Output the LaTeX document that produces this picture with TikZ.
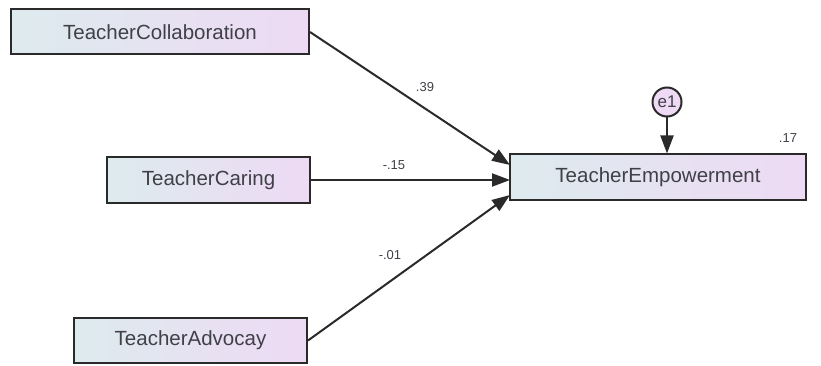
\documentclass[tikz,border=0pt]{standalone}
\usepackage{fontspec}
\setmainfont{Liberation Sans}
\usetikzlibrary{arrows.meta}
\definecolor{boxL}{HTML}{DDEBEE}
\definecolor{boxR}{HTML}{EEDAF4}
\definecolor{edge}{HTML}{2A2A2A}
\definecolor{txt}{HTML}{404048}
\begin{document}
\begin{tikzpicture}[x=1pt,y=-1pt,
  var/.style={draw=edge,line width=2pt,left color=boxL,right color=boxR,
    minimum height=45pt,inner sep=0pt,text=txt,font=\fontsize{20.5}{24}\selectfont},
  path/.style={draw=edge,line width=2pt,-{Triangle[length=18pt,width=13pt]}},
  coef/.style={text=txt,font=\fontsize{13}{15}\selectfont,inner sep=0pt}]
\useasboundingbox (0,0) rectangle (821,366);
\node[var,minimum width=298pt] (col) at (160,32) {TeacherCollaboration};
\node[var,minimum width=203pt] (car) at (208.5,180) {TeacherCaring};
\node[var,minimum width=233pt] (adv) at (190.5,340.5) {TeacherAdvocay};
\node[var,minimum width=296pt] (emp) at (658,177) {TeacherEmpowerment};
\node[draw=edge,line width=2pt,circle,fill=boxR,minimum size=29pt,inner sep=0pt,text=txt,font=\fontsize{17}{20}\selectfont] (e1) at (667,102) {e1};
\coordinate (t1) at (510,165);
\coordinate (t2) at (510,180);
\coordinate (t3) at (510,195);
\draw[path] (col.east) -- (t1);
\draw[path] (car.east) -- (t2);
\draw[path] (adv.east) -- (t3);
\draw[path] (e1.south) -- (e1.south |- emp.north);
\node[coef] (c1) at (425,87) {.39};
\node[coef] (c2) at (394,165) {-.15};
\node[coef] (c3) at (390,255) {-.01};
\node[coef] (r2) at (788,138) {.17};
\end{tikzpicture}
\end{document}
